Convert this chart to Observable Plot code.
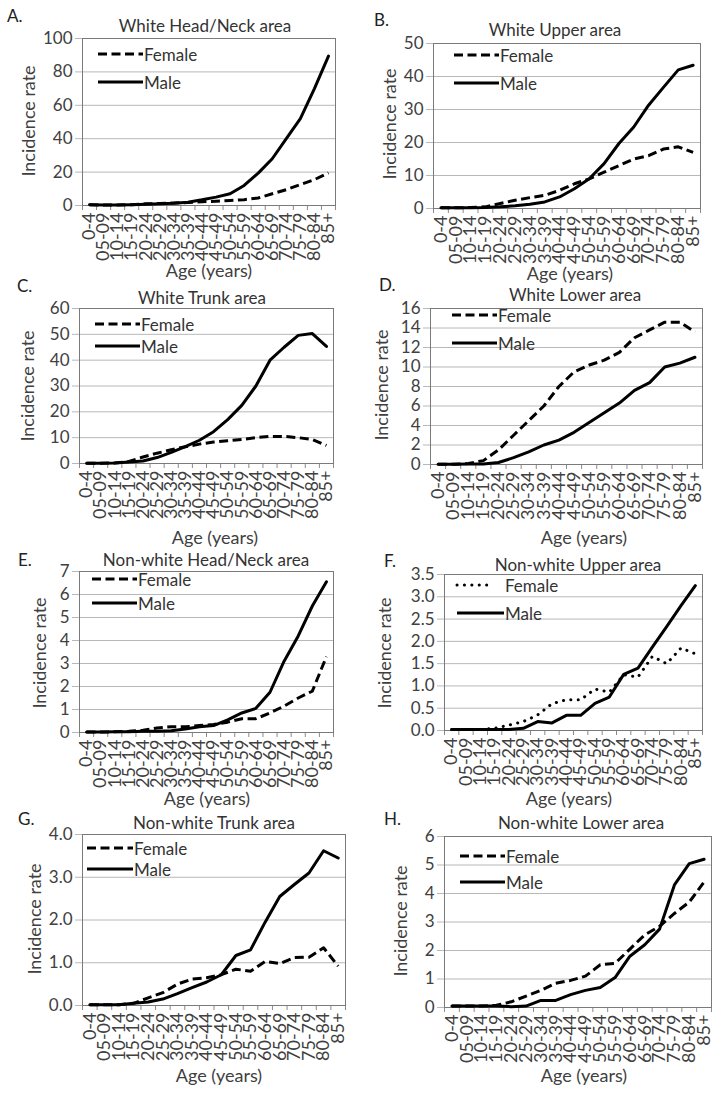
<!DOCTYPE html>
<html><head><meta charset="utf-8">
<script src="https://cdn.jsdelivr.net/npm/d3@7"></script>
<script src="https://cdn.jsdelivr.net/npm/@observablehq/plot@0.6"></script>
<style>
body{margin:0;background:#fff;}
#root{position:relative;width:724px;height:1098px;overflow:hidden;font-family:Lato,sans-serif;color:#404040;}
.t{position:absolute;white-space:nowrap;line-height:1;}
.plotbox{position:absolute;}
.plotbox svg{overflow:visible;max-width:none;}
</style></head><body><div id="root"></div>
<script>
// ---------- data ----------
const ageGroups = ["0-4","05-09","10-14","15-19","20-24","25-29","30-34","35-39","40-44","45-49","50-54","55-59","60-64","65-69","70-74","75-79","80-84","85+"];

const whiteHeadFemale = [0.5,0.3,0.3,0.5,1.0,1.2,1.5,1.8,2.2,2.6,3.0,3.5,4.5,7.0,9.5,12.5,15.5,19.5];
const whiteHeadMale   = [0.5,0.3,0.3,0.5,0.8,1.0,1.3,2.0,3.4,5.0,7.0,12.0,19.4,28.0,40.0,52.0,70.0,89.5];

const whiteUpperFemale = [0.2,0.2,0.3,0.5,1.5,2.5,3.3,4.0,5.5,7.5,9.0,11.0,13.0,15.0,16.0,18.0,18.7,17.0];
const whiteUpperMale   = [0.2,0.2,0.2,0.3,0.5,0.8,1.3,2.0,3.5,6.0,9.0,13.6,19.7,24.7,31.3,36.7,42.0,43.4];

const whiteTrunkFemale = [0.1,0.1,0.2,0.8,2.5,4.0,5.3,6.5,7.5,8.3,8.8,9.3,10.0,10.5,10.5,10.0,9.3,7.0];
const whiteTrunkMale   = [0.1,0.1,0.2,0.6,1.0,2.3,4.3,6.5,9.0,12.3,17.0,22.5,30.0,40.0,45.0,49.6,50.3,45.3];

const whiteLowerFemale = [0.02,0.02,0.1,0.4,1.5,3.0,4.5,6.0,8.0,9.5,10.2,10.7,11.5,13.0,13.8,14.6,14.6,13.6];
const whiteLowerMale   = [0.02,0.02,0.05,0.05,0.2,0.7,1.3,2.0,2.5,3.3,4.3,5.3,6.3,7.6,8.4,10.0,10.4,11.0];

const nonwhiteHeadFemale = [0.02,0.02,0.03,0.05,0.1,0.2,0.25,0.25,0.3,0.35,0.45,0.6,0.6,0.85,1.15,1.5,1.8,3.3];
const nonwhiteHeadMale   = [0.02,0.02,0.03,0.03,0.05,0.05,0.08,0.15,0.25,0.3,0.55,0.85,1.05,1.75,3.1,4.2,5.5,6.55];

const nonwhiteUpperFemale = [0.02,0.02,0.02,0.05,0.12,0.2,0.35,0.6,0.69,0.69,0.93,0.86,1.25,1.2,1.66,1.5,1.85,1.72];
const nonwhiteUpperMale   = [0.02,0.02,0.02,0.02,0.02,0.05,0.2,0.17,0.34,0.34,0.61,0.75,1.26,1.4,1.87,2.33,2.8,3.25];

const nonwhiteTrunkFemale = [0.02,0.02,0.02,0.05,0.18,0.3,0.5,0.62,0.65,0.72,0.85,0.8,1.03,0.98,1.12,1.13,1.35,0.92];
const nonwhiteTrunkMale   = [0.02,0.02,0.02,0.05,0.08,0.15,0.28,0.42,0.55,0.72,1.17,1.3,1.95,2.55,2.83,3.1,3.62,3.45];

const nonwhiteLowerFemale = [0.05,0.05,0.05,0.08,0.2,0.4,0.6,0.85,0.95,1.1,1.5,1.55,2.05,2.55,2.85,3.3,3.7,4.4];
const nonwhiteLowerMale   = [0.05,0.05,0.05,0.05,0.03,0.05,0.25,0.25,0.45,0.6,0.7,1.05,1.8,2.2,2.75,4.3,5.05,5.2];

const ticksA = [0,20,40,60,80,100];
const ticksB = [0,10,20,30,40,50];
const ticksC = [0,10,20,30,40,50,60];
const ticksD = [0,2,4,6,8,10,12,14,16];
const ticksE = [0,1,2,3,4,5,6,7];
const ticksF = [0,0.5,1,1.5,2,2.5,3,3.5];
const ticksG = [0,1,2,3,4];
const ticksH = [0,1,2,3,4,5,6];

const panelLetters = ["A.","B.","C.","D.","E.","F.","G.","H."];
const panelTitles = ["White Head/Neck area","White Upper area","White Trunk area","White Lower area",
  "Non-white Head/Neck area","Non-white Upper area","Non-white Trunk area","Non-white Lower area"];
const seriesNames = ["Female","Male"];
const xTitle = "Age (years)";
const yTitle = "Incidence rate";

// ---------- layout ----------
const panels = [
  {female: whiteHeadFemale, male: whiteHeadMale, ticks: ticksA, fmt: d3.format("d"),
   L:82,R:335,T:38,B:205, letter:[7,15], title:[205,25], ylab:[28,121], xlab:[209,270], leg:[98,143,54,82]},
  {female: whiteUpperFemale, male: whiteUpperMale, ticks: ticksB, fmt: d3.format("d"),
   L:433,R:700,T:43,B:208, letter:[374,19], title:[555,29], ylab:[389,124], xlab:[570,273], leg:[454,499,55,83]},
  {female: whiteTrunkFemale, male: whiteTrunkMale, ticks: ticksC, fmt: d3.format("d"),
   L:79,R:333,T:308,B:463, letter:[17,285], title:[202,297], ylab:[27,386], xlab:[215,537], leg:[95,140,324,346]},
  {female: whiteLowerFemale, male: whiteLowerMale, ticks: ticksD, fmt: d3.format("d"),
   L:430,R:702,T:308,B:464, letter:[379,284], title:[575,294], ylab:[381,385], xlab:[584,537], leg:[452,497,315,343]},
  {female: nonwhiteHeadFemale, male: nonwhiteHeadMale, ticks: ticksE, fmt: d3.format("d"),
   L:79,R:333,T:571,B:732, letter:[18,559], title:[206,559], ylab:[39,653], xlab:[207,798], leg:[92,137,579,603]},
  {female: nonwhiteUpperFemale, male: nonwhiteUpperMale, ticks: ticksF, fmt: d3.format(".1f"), dotted: true,
   L:444,R:702,T:574,B:730, letter:[384,560], title:[578,564], ylab:[384,653], xlab:[569,798], leg:[457,504,585,613]},
  {female: nonwhiteTrunkFemale, male: nonwhiteTrunkMale, ticks: ticksG, fmt: d3.format(".1f"),
   L:82,R:345,T:834,B:1005, letter:[18,818], title:[214,822], ylab:[34,919], xlab:[219,1075], leg:[87,133,848,869]},
  {female: nonwhiteLowerFemale, male: nonwhiteLowerMale, ticks: ticksH, fmt: d3.format("d"),
   L:444,R:711,T:836,B:1007, letter:[384,818], title:[581,822], ylab:[400,921], xlab:[584,1075], leg:[460,505,856,882]}
];

const root = document.getElementById("root");
const TEXT = "#404040";

function addText(str, x, y, size, opts = {}) {
  const d = document.createElement("div");
  d.className = "t";
  d.textContent = str;
  d.style.left = x + "px";
  d.style.top = y + "px";
  d.style.fontSize = size + "px";
  d.style.color = opts.color || TEXT;
  const tr = opts.anchor === "start" ? "translate(0,-50%)" : "translate(-50%,-50%)";
  d.style.transform = tr + (opts.rotate ? " rotate(-90deg)" : "");
  root.appendChild(d);
  return d;
}

const DASH = "9,4.5";
const DOT = "0.1,7.3";

panels.forEach((p, k) => {
  const mL = 60, mR = 14, mT = 12, mB = 76;
  const W = p.R - p.L + mL + mR, H = p.B - p.T + mT + mB;
  const femaleRows = ageGroups.map((g, i) => ({i, v: p.female[i]}));
  const maleRows = ageGroups.map((g, i) => ({i, v: p.male[i]}));
  const ymax = p.ticks[p.ticks.length - 1];
  const chart = Plot.plot({
    width: W, height: H,
    marginLeft: mL, marginRight: mR, marginTop: mT, marginBottom: mB,
    x: {type: "linear", domain: [-0.5, ageGroups.length - 0.5], axis: null, label: null},
    y: {type: "linear", domain: [0, ymax], axis: null, label: null},
    style: {fontFamily: "Lato, sans-serif", background: "transparent", overflow: "visible", color: TEXT},
    marks: [
      Plot.gridY(p.ticks.slice(1), {stroke: "#b8b8b8", strokeOpacity: 1, strokeWidth: 1}),
      Plot.axisY(p.ticks, {tickSize: 7, tickPadding: 3, stroke: "#b8b8b8", fill: TEXT, fontSize: 17,
        tickFormat: p.fmt, label: null}),
      Plot.axisX(d3.range(-0.5, ageGroups.length), {tickSize: 5, stroke: "#8a8a8a", tickFormat: () => "", label: null}),
      Plot.axisX(d3.range(ageGroups.length), {tickSize: 0, tickPadding: 7, tickRotate: -90, fontSize: 18,
        fill: TEXT, tickFormat: i => ageGroups[i], label: null}),
      Plot.frame({stroke: "#7a7a7a"}),
      Plot.line(femaleRows, {x: "i", y: "v", stroke: "#000", strokeWidth: 3,
        strokeDasharray: p.dotted ? DOT : DASH, strokeLinecap: p.dotted ? "round" : "butt", strokeLinejoin: "round"}),
      Plot.line(maleRows, {x: "i", y: "v", stroke: "#000", strokeWidth: 3, strokeLinejoin: "round"})
    ]
  });
  const box = document.createElement("div");
  box.className = "plotbox";
  box.style.left = (p.L - mL) + "px";
  box.style.top = (p.T - mT) + "px";
  box.appendChild(chart);
  root.appendChild(box);

  addText(panelLetters[k], p.letter[0], p.letter[1], 17, {anchor: "start", color: "#222"});
  addText(panelTitles[k], p.title[0], p.title[1], 17, {color: "#333"});
  addText(yTitle, p.ylab[0], p.ylab[1], 18, {rotate: true});
  addText(xTitle, p.xlab[0], p.xlab[1], 18);
});

// legends
const NS = "http://www.w3.org/2000/svg";
const leg = document.createElementNS(NS, "svg");
leg.setAttribute("width", 724);
leg.setAttribute("height", 1098);
leg.style.position = "absolute";
leg.style.left = "0px";
leg.style.top = "0px";
root.appendChild(leg);
panels.forEach((p, k) => {
  const [x1, x2, yF, yM] = p.leg;
  [[yF, p.dotted ? DOT : DASH, p.dotted], [yM, null, false]].forEach(([y, dash, dotted], j) => {
    const ln = document.createElementNS(NS, "line");
    const xe = dotted ? x2 - 16 : x2;
    ln.setAttribute("x1", x1); ln.setAttribute("x2", xe);
    ln.setAttribute("y1", y); ln.setAttribute("y2", y);
    ln.setAttribute("stroke", "#000");
    ln.setAttribute("stroke-width", 3);
    if (dash) ln.setAttribute("stroke-dasharray", dash);
    if (dotted) ln.setAttribute("stroke-linecap", "round");
    leg.appendChild(ln);
    addText(seriesNames[j], x2 + 1, y, 17, {anchor: "start", color: "#333"});
  });
});
</script></body></html>
